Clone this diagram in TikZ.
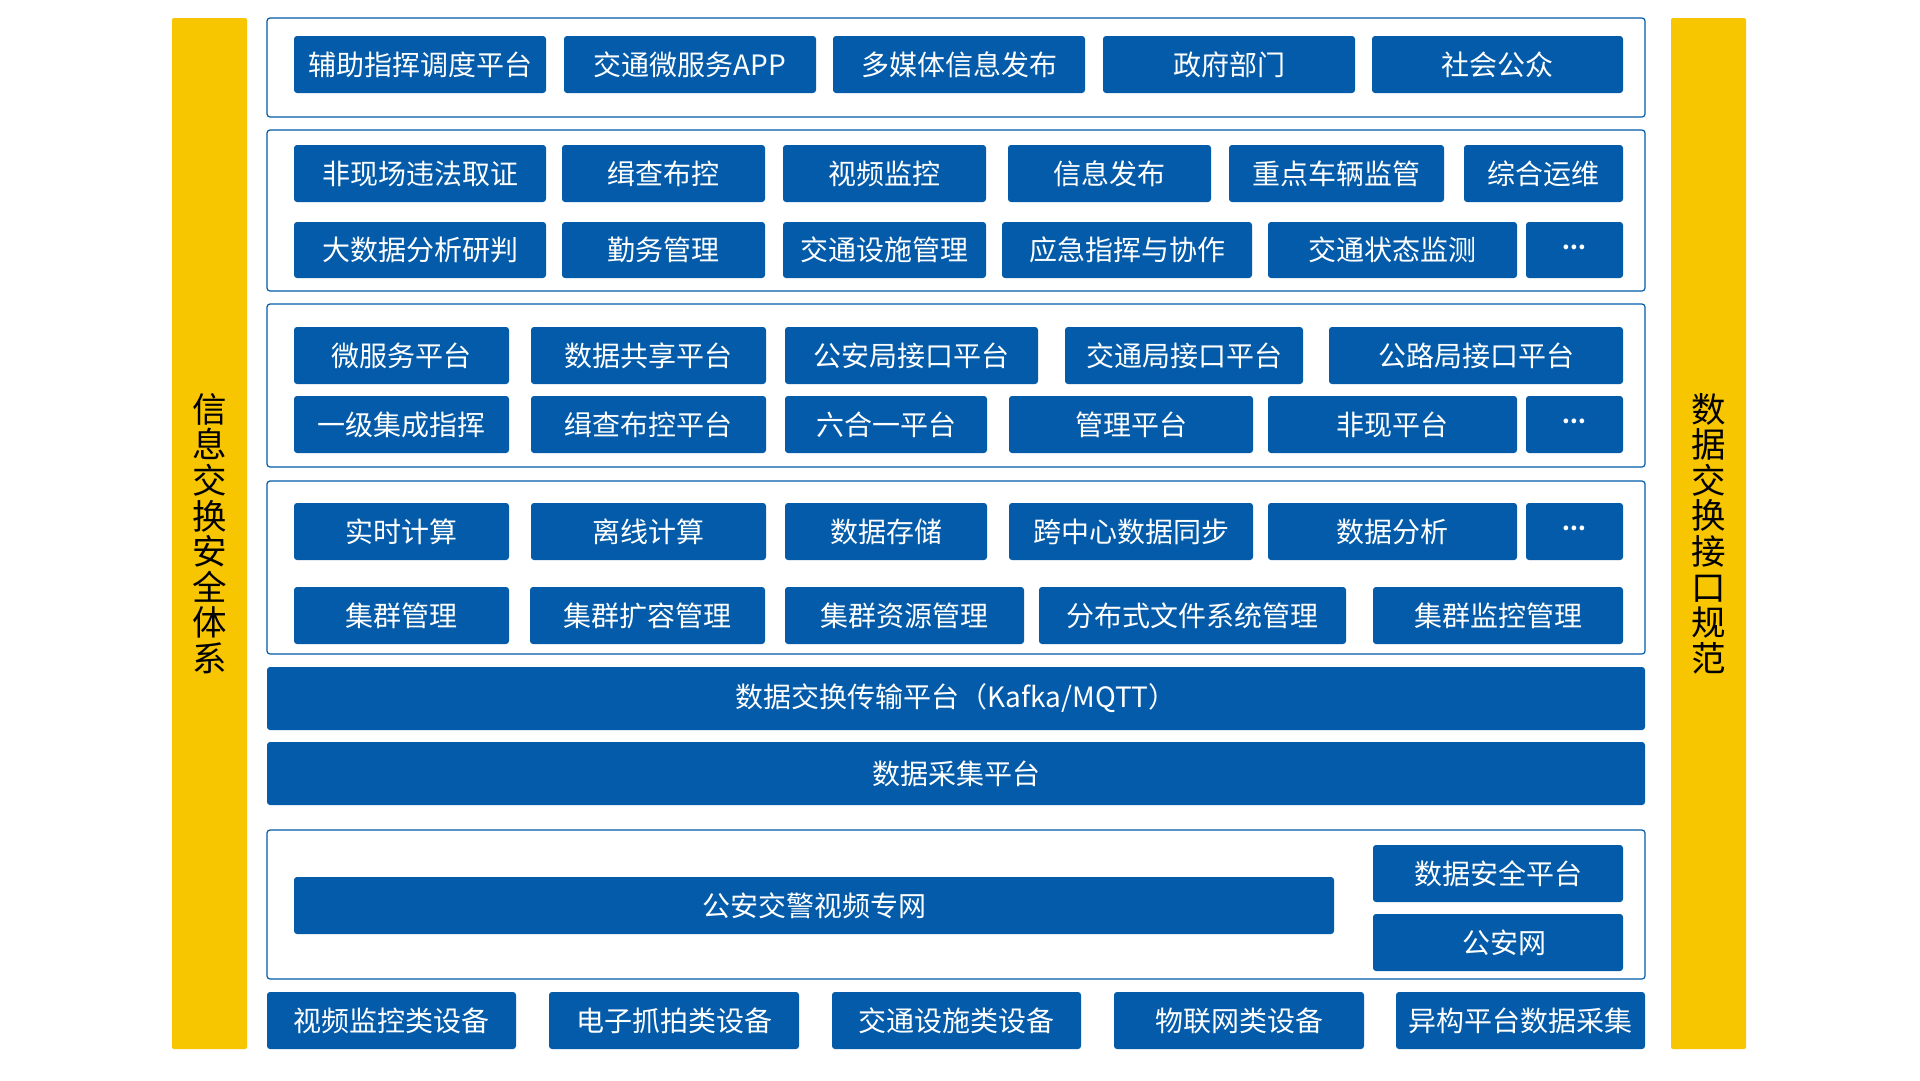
\documentclass[tikz,border=0pt]{standalone}
\usepackage{fontspec}
\setmainfont{Noto Sans CJK SC}
\definecolor{mblue}{RGB}{3,91,169}
\definecolor{myellow}{RGB}{248,198,0}
\tikzset{
  btn/.style={fill=mblue, draw=none, rounded corners=3pt, text=white, inner sep=0pt,
    font=\fontsize{28}{30}\selectfont},
  panel/.style={fill=white, draw=mblue, line width=1.2pt, rounded corners=3pt, inner sep=0pt},
  ybar/.style={fill=myellow, draw=none, rounded corners=2pt, inner sep=0pt, text=black,
    align=center, font=\fontsize{34.5}{35.6}\selectfont},
}
\newcommand\mybox[7]{% style, name, x1, x2, y1, y2, text
  \pgfmathsetmacro\bxcx{(#3+#4)/2}\pgfmathsetmacro\bxcy{(#5+#6)/2}%
  \pgfmathsetmacro\bxw{#4-#3}\pgfmathsetmacro\bxh{#6-#5}%
  \node[#1, minimum width=\bxw pt, minimum height=\bxh pt] (#2) at (\bxcx,\bxcy) {#7};}
\newcommand\mydots{\raisebox{6pt}{\fontsize{22}{24}\selectfont\bfseries ...}}
\begin{document}
\begin{tikzpicture}[x=1pt,y=-1pt]
\useasboundingbox[fill=white] (0,0) rectangle (1920,1080);
% side bars
\mybox{ybar}{secL}{172}{247}{18}{1049}{信\\息\\交\\换\\安\\全\\体\\系}
\mybox{ybar}{secR}{1671}{1746}{18}{1049}{数\\据\\交\\换\\接\\口\\规\\范}
% panel 1
\mybox{panel}{p1}{267}{1645}{18}{117}{}
\mybox{btn}{a1}{294}{546}{36}{93}{辅助指挥调度平台}
\mybox{btn}{a2}{564}{816}{36}{93}{交通微服务APP}
\mybox{btn}{a3}{833}{1085}{36}{93}{多媒体信息发布}
\mybox{btn}{a4}{1103}{1355}{36}{93}{政府部门}
\mybox{btn}{a5}{1372}{1623}{36}{93}{社会公众}
% panel 2
\mybox{panel}{p2}{267}{1645}{130}{291}{}
\mybox{btn}{b1}{294}{546}{145}{202}{非现场违法取证}
\mybox{btn}{b2}{562}{765}{145}{202}{缉查布控}
\mybox{btn}{b3}{783}{986}{145}{202}{视频监控}
\mybox{btn}{b4}{1008}{1211}{145}{202}{信息发布}
\mybox{btn}{b5}{1229}{1444}{145}{202}{重点车辆监管}
\mybox{btn}{b6}{1464}{1623}{145}{202}{综合运维}
\mybox{btn}{c1}{294}{546}{222}{278}{大数据分析研判}
\mybox{btn}{c2}{562}{765}{222}{278}{勤务管理}
\mybox{btn}{c3}{783}{986}{222}{278}{交通设施管理}
\mybox{btn}{c4}{1002}{1252}{222}{278}{应急指挥与协作}
\mybox{btn}{c5}{1268}{1517}{222}{278}{交通状态监测}
\mybox{btn}{c6}{1526}{1623}{222}{278}{\mydots}
% panel 3
\mybox{panel}{p3}{267}{1645}{304}{467}{}
\mybox{btn}{d1}{294}{509}{327}{384}{微服务平台}
\mybox{btn}{d2}{531}{766}{327}{384}{数据共享平台}
\mybox{btn}{d3}{785}{1038}{327}{384}{公安局接口平台}
\mybox{btn}{d4}{1065}{1303}{327}{384}{交通局接口平台}
\mybox{btn}{d5}{1329}{1623}{327}{384}{公路局接口平台}
\mybox{btn}{e1}{294}{509}{396}{453}{一级集成指挥}
\mybox{btn}{e2}{531}{766}{396}{453}{缉查布控平台}
\mybox{btn}{e3}{785}{987}{396}{453}{六合一平台}
\mybox{btn}{e4}{1009}{1253}{396}{453}{管理平台}
\mybox{btn}{e5}{1268}{1517}{396}{453}{非现平台}
\mybox{btn}{e6}{1526}{1623}{396}{453}{\mydots}
% panel 4
\mybox{panel}{p4}{267}{1645}{481}{654}{}
\mybox{btn}{f1}{294}{509}{503}{560}{实时计算}
\mybox{btn}{f2}{531}{766}{503}{560}{离线计算}
\mybox{btn}{f3}{785}{987}{503}{560}{数据存储}
\mybox{btn}{f4}{1009}{1253}{503}{560}{跨中心数据同步}
\mybox{btn}{f5}{1268}{1517}{503}{560}{数据分析}
\mybox{btn}{f6}{1526}{1623}{503}{560}{\mydots}
\mybox{btn}{g1}{294}{509}{587}{644}{集群管理}
\mybox{btn}{g2}{530}{765}{587}{644}{集群扩容管理}
\mybox{btn}{g3}{785}{1024}{587}{644}{集群资源管理}
\mybox{btn}{g4}{1039}{1346}{587}{644}{分布式文件系统管理}
\mybox{btn}{g5}{1373}{1623}{587}{644}{集群监控管理}
% wide bars
\mybox{btn}{kafka}{267}{1645}{667}{730}{数据交换传输平台（Kafka/MQTT）}
\mybox{btn}{collect}{267}{1645}{742}{805}{数据采集平台}
% panel 5
\mybox{panel}{p5}{267}{1645}{830}{979}{}
\mybox{btn}{vnet}{294}{1334}{877}{934}{公安交警视频专网}
\mybox{btn}{dsec}{1373}{1623}{845}{902}{数据安全平台}
\mybox{btn}{pnet}{1373}{1623}{914}{971}{\hspace*{12pt}公安网}
% devices
\mybox{btn}{h1}{267}{516}{992}{1049}{视频监控类设备}
\mybox{btn}{h2}{549}{799}{992}{1049}{电子抓拍类设备}
\mybox{btn}{h3}{832}{1081}{992}{1049}{交通设施类设备}
\mybox{btn}{h4}{1114}{1364}{992}{1049}{物联网类设备}
\mybox{btn}{h5}{1396}{1645}{992}{1049}{异构平台数据采集}
\end{tikzpicture}
\end{document}
